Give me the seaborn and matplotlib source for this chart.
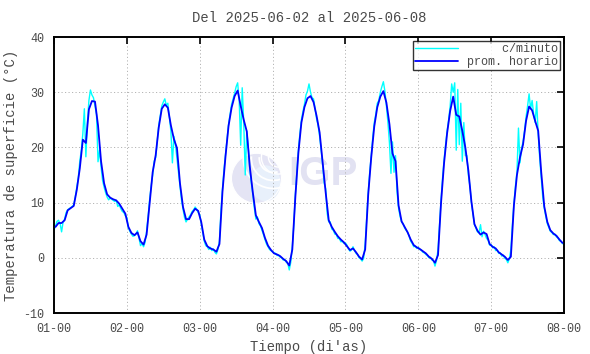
import numpy as np
import matplotlib
matplotlib.use("Agg")
import matplotlib.pyplot as plt
import seaborn as sns
from matplotlib.patches import Ellipse, Arc

# ---------------- data ----------------
title = "Del 2025-06-02 al 2025-06-08"
xlabel = "Tiempo (di'as)"
ylabel = "Temperatura de superficie (°C)"
xtick_labels = ["01-00", "02-00", "03-00", "04-00", "05-00", "06-00", "07-00", "08-00"]
ytick_values = [-10, 0, 10, 20, 30, 40]
series_names = ["c/minuto", "prom. horario"]

# hourly means (one per hour, plotted at the half hour)
hourly_d1 = [5.6, 6.3, 6.3, 6.8, 8.6, 9.0, 9.4, 12.3, 16.2, 21.4, 20.8, 26.9,
             28.4, 28.3, 24.0, 17.5, 13.5, 11.5, 10.9, 10.6, 10.4, 9.8, 8.9, 8.0]
hourly_d2 = [5.6, 4.5, 4.1, 4.6, 3.0, 2.4, 4.2, 9.9, 15.5, 18.6, 23.6, 27.0,
             27.8, 27.2, 24.0, 21.5, 19.9, 13.5, 9.2, 7.0, 7.0, 8.1, 8.9, 8.5]
hourly_d3 = [6.5, 3.3, 2.1, 1.7, 1.5, 1.1, 2.5, 12.0, 18.4, 23.9, 27.2, 29.3,
             30.3, 27.5, 25.0, 22.9, 16.5, 11.8, 7.7, 6.5, 5.4, 3.6, 2.2, 1.4]
hourly_d4 = [0.8, 0.6, 0.3, -0.2, -0.6, -1.4, 1.5, 11.0, 19.0, 24.5, 27.3, 28.9,
             29.3, 28.2, 25.7, 22.7, 17.2, 11.8, 6.8, 5.6, 4.7, 3.9, 3.3, 2.8]
hourly_d5 = [2.1, 1.4, 1.7, 1.0, 0.2, -0.3, 1.5, 11.4, 18.2, 23.8, 27.3, 29.2,
             30.2, 28.1, 24.2, 18.9, 17.5, 9.5, 6.6, 5.6, 4.6, 3.3, 2.3, 1.9]
hourly_d6 = [1.6, 1.2, 0.8, 0.2, -0.2, -0.9, 0.5, 10.0, 17.2, 22.6, 26.6, 29.2,
             25.9, 25.6, 23.0, 20.0, 15.8, 10.2, 6.1, 4.9, 4.2, 4.6, 4.3, 2.5]
hourly_d7 = [2.0, 1.7, 1.0, 0.6, 0.2, -0.4, 0.2, 9.5, 15.0, 18.2, 20.5, 24.8,
             27.4, 26.7, 24.8, 23.0, 15.5, 9.3, 6.5, 5.0, 4.4, 4.0, 3.3, 2.7]

minute_d1 = [5.0, 5.8, 6.6, 6.8, 6.2, 4.7, 6.5, 7.0, 8.2, 8.7, 8.9, 9.1,
             9.3, 9.6, 11.0, 12.8, 14.5, 17.5, 19.5, 22.5, 27.0, 18.3, 24.5, 28.5,
             30.4, 29.5, 29.0, 27.5, 26.0, 17.4, 19.5, 16.5, 14.0, 12.8, 11.8, 11.0,
             10.5, 10.8, 10.6, 10.4, 10.2, 10.4, 9.3, 9.6, 8.9, 8.4, 8.2, 7.6]
minute_d2 = [7.3, 5.4, 4.8, 4.3, 3.9, 4.0, 4.3, 4.9, 3.6, 2.2, 2.6, 2.0,
             2.8, 4.8, 7.5, 10.5, 13.0, 15.0, 17.5, 18.2, 21.0, 24.0, 25.8, 27.5,
             28.2, 28.8, 27.6, 28.0, 25.5, 23.0, 17.2, 22.0, 20.5, 18.0, 15.5, 13.0,
             10.5, 8.8, 7.3, 6.5, 7.0, 7.4, 7.8, 8.4, 8.7, 9.2, 8.8, 8.2]
minute_d3 = [7.8, 6.2, 4.5, 3.0, 2.2, 2.0, 1.5, 1.9, 1.3, 1.6, 1.0, 0.7,
             1.5, 3.0, 8.5, 12.5, 16.0, 18.8, 21.5, 24.2, 26.0, 27.8, 28.8, 29.8,
             31.0, 31.7, 28.5, 20.4, 30.8, 24.5, 15.0, 23.0, 20.0, 16.0, 13.5, 11.5,
             9.0, 7.0, 7.4, 6.2, 5.8, 5.0, 4.2, 3.3, 2.5, 2.0, 1.5, 1.3]
minute_d4 = [1.1, 0.9, 0.8, 0.4, 0.5, 0.1, 0.0, -0.4, -0.3, -0.8, -1.0, -2.2,
             -0.8, 2.0, 6.0, 11.5, 15.5, 19.5, 22.5, 25.0, 26.5, 27.8, 29.5, 30.2,
             31.5, 30.0, 29.0, 28.8, 27.0, 25.2, 24.0, 22.0, 19.5, 16.8, 13.5, 12.5,
             8.0, 6.5, 6.5, 5.2, 5.0, 4.3, 4.2, 3.5, 3.5, 2.9, 3.0, 2.6]
minute_d5 = [2.7, 2.3, 1.6, 1.2, 1.4, 2.0, 1.3, 0.8, 0.6, 0.0, -0.2, -0.6,
             -0.1, 2.5, 7.0, 11.8, 15.5, 18.5, 21.8, 24.5, 26.0, 28.0, 28.5, 30.0,
             31.0, 31.9, 30.2, 27.5, 24.5, 20.8, 15.3, 21.0, 15.5, 18.5, 12.0, 9.0,
             7.5, 6.5, 6.2, 5.4, 5.0, 4.6, 3.9, 3.0, 2.6, 2.0, 2.1, 1.7]
minute_d6 = [1.9, 1.5, 1.4, 1.0, 0.9, 0.6, 0.4, 0.0, 0.1, -0.4, -0.5, -1.5,
             -0.5, 1.5, 6.0, 10.5, 14.5, 17.8, 20.5, 23.0, 25.0, 27.5, 31.5, 30.0,
             31.7, 19.5, 30.5, 20.5, 28.0, 17.5, 24.5, 18.5, 18.5, 15.0, 13.0, 10.0,
             8.0, 6.0, 5.4, 4.7, 4.5, 6.0, 3.8, 4.8, 4.2, 3.5, 3.2, 2.3]
minute_d7 = [2.4, 1.8, 2.0, 1.3, 1.4, 0.8, 0.9, 0.3, 0.5, -0.1, -0.3, -0.9,
             -0.2, 1.5, 6.0, 9.8, 13.0, 15.5, 23.5, 17.2, 19.8, 21.0, 23.0, 25.5,
             27.5, 29.7, 27.0, 28.5, 26.0, 24.5, 28.3, 22.5, 18.0, 14.5, 11.0, 9.0,
             7.5, 6.2, 5.5, 4.8, 4.6, 4.2, 4.3, 3.8, 3.6, 3.1, 3.0, 2.6, 2.4]

# ---------------- build series ----------------
hourly = np.concatenate([hourly_d1, hourly_d2, hourly_d3, hourly_d4,
                         hourly_d5, hourly_d6, hourly_d7])
minute = np.concatenate([minute_d1, minute_d2, minute_d3, minute_d4,
                         minute_d5, minute_d6, minute_d7])
t_hourly = (np.arange(len(hourly)) + 0.5) / 24.0
t_minute = np.arange(len(minute)) * 0.5 / 24.0

# ---------------- style ----------------
sns.set_style("white")
plt.rcParams["font.family"] = ["Liberation Mono", "DejaVu Sans Mono"]
text_col = "#4a4a4a"

fig = plt.figure(figsize=(5.9, 3.54), dpi=100)
ax = fig.add_axes([54 / 590, 41 / 354, 510 / 590, 276 / 354])

# watermark (IGP logo)
ax.add_patch(Ellipse((0.397, 0.488), 50 / 510, 50 / 276, transform=ax.transAxes,
                     facecolor="#e4e4f4", edgecolor="none", zorder=0))
ax.add_patch(Ellipse((0.415, 0.47), 30 / 510, 36 / 276, transform=ax.transAxes,
                     facecolor="#e8f0fb", edgecolor="none", zorder=0))
for r in (14, 22, 30):
    ax.add_patch(Arc((0.43, 0.56), 2 * r / 510, 2 * r / 276, theta1=170, theta2=280,
                     transform=ax.transAxes, color="white", lw=1.3, zorder=0.5))
for r in (10, 17):
    ax.add_patch(Arc((0.44, 0.565), 2 * r / 510, 2 * r / 276, theta1=120, theta2=330,
                     transform=ax.transAxes, color="white", lw=1.0, zorder=0.5))
ax.add_patch(Ellipse((0.397, 0.488), 50 / 510, 50 / 276, transform=ax.transAxes,
                     facecolor="none", edgecolor="white", lw=0.8, zorder=0.6))
ax.text(0.459, 0.505, "IGP", transform=ax.transAxes, ha="left", va="center",
        fontsize=29, fontweight="bold", color="#e2e2f2",
        family=["Liberation Sans", "DejaVu Sans"], zorder=0.5)

sns.lineplot(x=t_minute, y=minute, ax=ax, color="#00ffff", lw=1.0,
             label="     " + series_names[0], zorder=2)
sns.lineplot(x=t_hourly, y=hourly, ax=ax, color="#0000ff", lw=1.3,
             label=series_names[1], zorder=3)

ax.set_xlim(0, 7)
ax.set_ylim(-10, 40)
ax.set_xticks(np.arange(len(xtick_labels)))
ax.set_xticklabels(xtick_labels)
ax.set_yticks(ytick_values)
ax.set_yticklabels([str(v) for v in ytick_values])

ax.grid(True, color="#b4b4b4", linestyle=(0, (1.2, 2.4)), lw=0.7)
ax.set_axisbelow(True)
for s in ax.spines.values():
    s.set_color("black")
    s.set_linewidth(1.4)

ax.tick_params(direction="in", length=5, width=1.2, top=True, right=True,
               labelsize=8.5, labelcolor=text_col, pad=7, colors="black")
for lab in ax.get_xticklabels() + ax.get_yticklabels():
    lab.set_color(text_col)

ax.set_title(title, fontsize=10, color=text_col, pad=11)
ax.set_xlabel(xlabel, fontsize=10, color=text_col, labelpad=4)
ax.set_ylabel(ylabel, fontsize=10, color=text_col, labelpad=4)

leg = ax.legend(loc="upper right", fontsize=8.5, frameon=True, fancybox=False,
                edgecolor="black", handlelength=3.6, borderpad=0.2,
                labelspacing=0.1, handletextpad=0.8, borderaxespad=0.3)
leg.get_frame().set_linewidth(1.0)
for txt in leg.get_texts():
    txt.set_color(text_col)

fig.savefig("out.png", dpi=100)
